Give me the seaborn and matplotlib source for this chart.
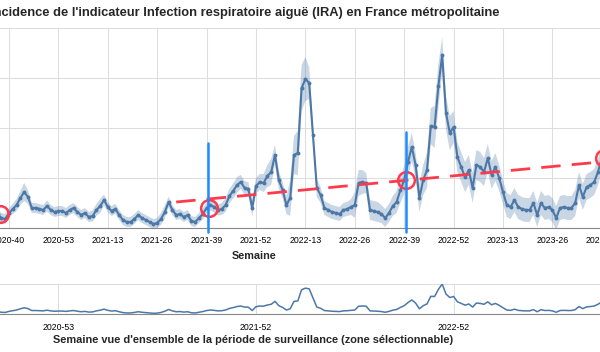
import matplotlib
matplotlib.use("Agg")
import matplotlib.pyplot as plt
import numpy as np
import seaborn as sns

# weekly series starts at ISO week 2020-37
FIRST_YEAR, FIRST_WEEK = 2020, 37
WEEKS_PER_YEAR = {2020: 53, 2021: 52, 2022: 52, 2023: 52}

# incidence (per 100 000), one value per week
incidence = [
    140, 100, 90, 150, 190, 230, 300, 360, 310, 200,
    200, 190, 180, 220, 180, 160, 170, 170, 150, 180,
    200, 160, 130, 150, 110, 120, 180, 220, 280, 210,
    170, 190, 130, 80, 60, 60, 90, 130, 100, 80,
    60, 40, 50, 90, 160, 260, 180, 130, 140, 110,
    130, 70, 60, 100, 140, 200, 230, 210, 180, 190,
    230, 320, 370, 430, 460, 400, 390, 200, 420, 460,
    450, 520, 560, 730, 480, 380, 230, 300, 730, 750,
    1400, 1490, 1450, 930, 400, 330, 200, 180, 160, 150,
    140, 180, 190, 210, 230, 450, 460, 450, 180, 170,
    160, 140, 100, 150, 220, 260, 380, 480, 660, 810,
    630, 300, 480, 580, 1020, 1010, 1420, 1730, 1150, 950,
    1010, 710, 610, 510, 580, 400, 630, 610, 560, 700,
    530, 610, 500, 360, 230, 210, 280, 210, 190, 180,
    180, 250, 130, 250, 200, 210, 180, 100, 200, 210,
    200, 200, 250, 430, 310, 410, 430, 460, 560, 700,
    780,
]

# half width of the confidence band, same weeks
half_width = [
    50, 50, 50, 50, 50, 60, 70, 90, 70, 50,
    50, 50, 50, 55, 50, 50, 50, 50, 50, 50,
    50, 50, 50, 50, 50, 55, 60, 70, 55, 50,
    50, 50, 50, 50, 50, 50, 50, 50, 50, 50,
    50, 50, 50, 60, 65, 55, 50, 50, 50, 50,
    50, 50, 50, 50, 55, 55, 55, 55, 55, 60,
    70, 70, 75, 80, 70, 70, 70, 80, 80, 80,
    90, 110, 130, 100, 90, 80, 90, 180, 190, 220,
    230, 220, 160, 100, 90, 80, 70, 70, 70, 70,
    70, 70, 70, 80, 130, 130, 120, 100, 100, 100,
    100, 90, 90, 90, 100, 110, 130, 140, 150, 140,
    130, 140, 150, 180, 180, 210, 220, 180, 170, 170,
    160, 150, 150, 150, 150, 150, 150, 150, 140, 140,
    140, 140, 130, 120, 120, 120, 120, 120, 120, 120,
    120, 120, 120, 120, 120, 120, 120, 120, 120, 120,
    120, 120, 130, 130, 130, 130, 130, 130, 130, 130,
    130,
]

main_ticks = ["2020-40", "2020-53", "2021-13", "2021-26", "2021-39", "2021-52",
              "2022-13", "2022-26", "2022-39", "2022-52", "2023-13", "2023-26", "2023-39"]
overview_ticks = ["2020-53", "2021-52", "2022-52"]

# annotations drawn on top of the chart
circled_weeks = ["2020-37", "2021-39", "2022-39", "2023-39"]
bar_weeks = ["2021-39", "2022-39"]
bar_tops = [850, 960]
trend_weeks = ["2021-31", "2023-40"]
trend_values = [260, 665]


def week_labels(n):
    out = []
    y, w = FIRST_YEAR, FIRST_WEEK
    for _ in range(n):
        out.append(f"{y}-{w:02d}")
        w += 1
        if w > WEEKS_PER_YEAR[y]:
            y, w = y + 1, 1
    return out


weeks = week_labels(len(incidence))
pos = {w: k for k, w in enumerate(weeks)}
xs = np.arange(len(weeks))
vals = np.array(incidence, dtype=float)
hw = np.array(half_width, dtype=float)

BLUE = "#4c78a8"
RED = "#ff3a4c"
GRID = "#dddddd"
AXIS = "#888888"

sns.set_theme(style="white")
plt.rcParams["font.family"] = ["Liberation Sans", "DejaVu Sans"]

W, H = 600, 352
fig = plt.figure(figsize=(W / 100, H / 100), dpi=100)

# pixel mapping: week k sits at x = -2.4 + 3.8 k
PX0, PXW = -2.4, 3.8
left_px, right_px = -20, 620
xlim = ((left_px - PX0) / PXW, (right_px - PX0) / PXW)


def place(top_px, bottom_px):
    return [left_px / W, 1 - bottom_px / H, (right_px - left_px) / W, (bottom_px - top_px) / H]


def style_axis(ax, pad):
    for s in ["top", "right", "left"]:
        ax.spines[s].set_visible(False)
    ax.spines["bottom"].set_color(AXIS)
    ax.spines["bottom"].set_linewidth(0.8)
    ax.tick_params(axis="x", length=3.6, width=0.7, color=AXIS, pad=pad,
                   labelsize=6.3, labelcolor="#000000")
    ax.tick_params(axis="y", length=0, labelleft=False)
    ax.grid(True, color=GRID, linewidth=0.75)
    ax.set_axisbelow(True)
    ax.set_xlabel("")
    ax.set_ylabel("")


# main chart
ax = fig.add_axes(place(28, 228))
ax.fill_between(xs, vals - hw, vals + hw, color=BLUE, alpha=0.3, linewidth=0)
sns.lineplot(x=xs, y=vals, ax=ax, color=BLUE, linewidth=1.5, marker="o",
             markersize=2.8, markeredgewidth=0)
ax.set_xlim(*xlim)
ax.set_ylim(0, 2000)
ax.set_yticks([0, 500, 1000, 1500, 2000])
ax.set_xticks([pos[t] for t in main_ticks])
ax.set_xticklabels(main_ticks)
style_axis(ax, 2.3)

# annotations
tx = [pos[w] for w in trend_weeks]
ax.plot(tx, trend_values, color=RED, linewidth=2, dashes=(7, 4), zorder=5)
for w in circled_weeks:
    ax.plot(pos[w] + 0.6, incidence[pos[w]], marker="o", markersize=12, markerfacecolor="none",
            markeredgecolor=RED, markeredgewidth=1.8, zorder=6)
for w, top in zip(bar_weeks, bar_tops):
    ax.plot([pos[w] + 0.5, pos[w] + 0.5], [-40, top], color="#1e8bff", linewidth=1.8,
            clip_on=False, zorder=7)

# overview chart
ov = fig.add_axes(place(284, 314))
sns.lineplot(x=xs, y=vals, ax=ov, color=BLUE, linewidth=1.1)
ov.set_xlim(*xlim)
ov.set_ylim(0, vals.max())
ov.set_yticks([0, vals.max()])
ov.set_xticks([pos[t] for t in overview_ticks])
ov.set_xticklabels(overview_ticks)
style_axis(ov, 2.6)

# titles
fig.text(244.5 / W, 1 - 16 / H,
         "Incidence de l'indicateur Infection respiratoire aiguë (IRA) en France métropolitaine",
         ha="center", va="baseline", fontsize=9.25, fontweight="bold")
fig.text(254 / W, 1 - 259 / H, "Semaine", ha="center", va="baseline",
         fontsize=7.8, fontweight="bold")
fig.text(253.5 / W, 1 - 343 / H,
         "Semaine vue d'ensemble de la période de surveillance (zone sélectionnable)",
         ha="center", va="baseline", fontsize=7.95, fontweight="bold")

fig.savefig("out.png", dpi=100)
